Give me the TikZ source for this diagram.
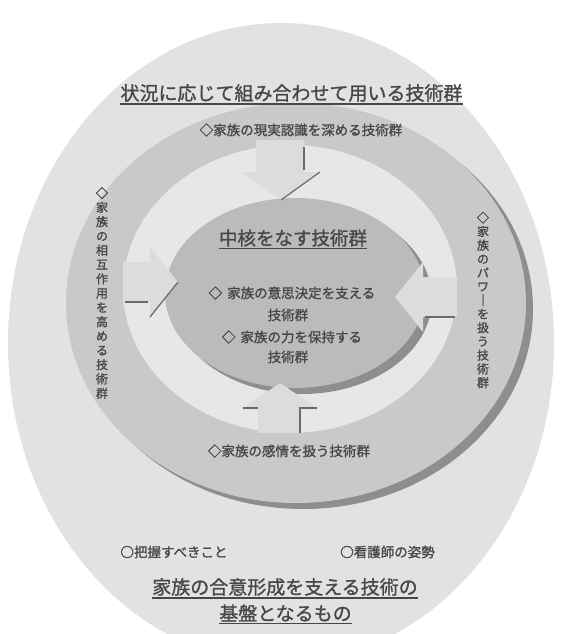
\documentclass[tikz,border=0pt]{standalone}
\usepackage{fontspec}
\setmainfont{Noto Sans CJK JP}[FakeBold=1.2]
\definecolor{outerc}{HTML}{E2E2E2}
\definecolor{midc}{HTML}{C9C9C9}
\definecolor{rimc}{HTML}{8E8E8E}
\definecolor{lightc}{HTML}{E7E7E7}
\definecolor{corec}{HTML}{BBBBBB}
\definecolor{arrc}{HTML}{DCDCDC}
\definecolor{edgec}{HTML}{6A6A6A}
\definecolor{txtc}{HTML}{474747}
\begin{document}
\begin{tikzpicture}[x=1pt,y=-1pt,
  txt/.style={text=txtc,inner sep=0pt,font=\fontsize{13.5}{16}\selectfont},
  big/.style={text=txtc,inner sep=0pt,font=\fontsize{19}{22}\selectfont},
  vtxt/.style={text=txtc,inner sep=0pt,align=center,font=\fontsize{12}{#1}\selectfont},
  uline/.style={draw=txtc,line width=1.1pt},
  edge/.style={draw=edgec,line width=1.2pt},
  blk/.style={fill=arrc}]
\useasboundingbox (0,0) rectangle (568,634);
\clip (0,0) rectangle (568,634);
\fill[white] (0,0) rectangle (568,634);
% layers
\fill[outerc] (281,343) ellipse[x radius=273pt,y radius=320pt];
\fill[rimc] (303,309) ellipse[x radius=230pt,y radius=200pt];
\fill[midc] (296,303) ellipse[x radius=230pt,y radius=200pt];
\fill[lightc] (290,289) ellipse[x radius=167pt,y radius=144pt];
\fill[rimc] (302,299) ellipse[x radius=130pt,y radius=95pt];
\fill[corec] (295,293) ellipse[x radius=130pt,y radius=95pt];
% block arrows
\fill[blk] (256,140) -- (304,140) -- (304,172) -- (320,172) -- (281,200) -- (242,172) -- (256,172) -- cycle;
\draw[edge] (304,147) -- (304,170);
\draw[edge] (320,172) -- (281,200);
\fill[blk] (280,383) -- (317,408) -- (300,408) -- (300,433) -- (258,433) -- (258,408) -- (243,408) -- cycle;
\draw[edge] (243,408) -- (258,408);
\draw[edge] (300,433) -- (300,408) -- (317,408);
\fill[blk] (123,262) -- (150,262) -- (150,247) -- (178,282) -- (150,317) -- (150,302) -- (123,302) -- cycle;
\draw[edge] (125,302) -- (148,302);
\draw[edge] (178,282) -- (150,317);
\fill[blk] (457,277) -- (423,277) -- (423,262) -- (395,297) -- (423,332) -- (423,317) -- (457,317) -- cycle;
\draw[edge] (425,317) -- (455,317);
% texts
\node[big] (title) at (291.5,93) {状況に応じて組み合わせて用いる技術群};
\draw[uline] ([yshift=-2pt]title.south west) -- ([yshift=-2pt]title.south east);
\node[txt] (top) at (301,130) {◇家族の現実認識を深める技術群};
\node[vtxt=14.3] (left) at (102,293) {◇\\家\\族\\の\\相\\互\\作\\用\\を\\高\\め\\る\\技\\術\\群};
\node[vtxt=13.75] (right) at (483,300) {◇\\家\\族\\の\\パ\\ワ\\｜\\を\\扱\\う\\技\\術\\群};
\node[big,font=\fontsize{18.5}{22}\selectfont] (core) at (293,238) {中核をなす技術群};
\draw[uline] ([yshift=-2pt]core.south west) -- ([yshift=-2pt]core.south east);
\node[txt] (c1) at (292,293) {◇\hspace{5pt}家族の意思決定を支える};
\node[txt] (c2) at (288,315) {技術群};
\node[txt] (c3) at (292,337) {◇\hspace{5pt}家族の力を保持する};
\node[txt] (c4) at (288,357) {技術群};
\node[txt] (bot) at (289,451) {◇家族の感情を扱う技術群};
\node[txt] (b1) at (174,552) {○把握すべきこと};
\node[txt] (b2) at (387.5,552) {○看護師の姿勢};
\node[big] (f1) at (285,587) {家族の合意形成を支える技術の};
\draw[uline] ([yshift=-2pt]f1.south west) -- ([yshift=-2pt]f1.south east);
\node[big] (f2) at (285.5,613) {基盤となるもの};
\draw[uline] ([yshift=-2pt]f2.south west) -- ([yshift=-2pt]f2.south east);
\end{tikzpicture}
\end{document}
